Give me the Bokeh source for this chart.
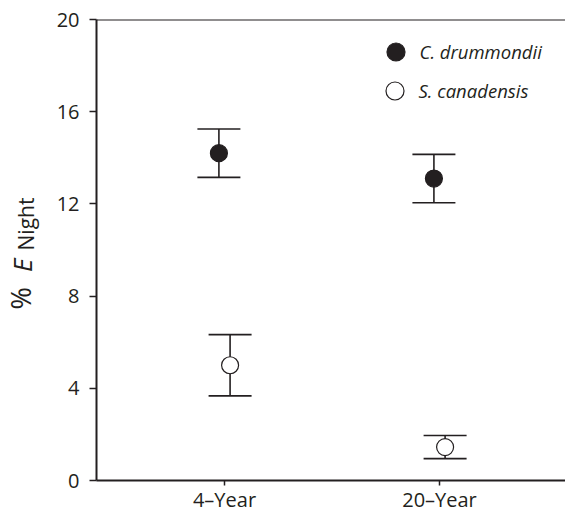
from bokeh.plotting import figure
from bokeh.layouts import row
from bokeh.models import (ColumnDataSource, Range1d, FixedTicker, Whisker, TeeHead,
                          Span, Legend, LegendItem)
from bokeh.core.properties import value
from bokeh.embed import file_html
from bokeh.resources import INLINE
from math import pi

# ---- data ----
periods = ["4\u2013Year", "20\u2013Year"]
period_pos = [1, 2]
species = ["C. drummondii", "S. canadensis"]
cd_mean = [14.2, 13.1]
cd_err = [1.05, 1.05]
sc_mean = [5.0, 1.45]
sc_err = [1.33, 0.5]
y_ticks = [0, 4, 8, 12, 16, 20]

INK = "#231f20"
FONT = "Open Sans"
DODGE = 0.026
H = 515
LBL_W = 50

def make_src(means, errs, shift):
    xs = [p + shift for p in period_pos]
    return ColumnDataSource(dict(
        x=xs, y=means,
        upper=[m + e for m, e in zip(means, errs)],
        lower=[m - e for m, e in zip(means, errs)],
    ))

cd_src = make_src(cd_mean, cd_err, -DODGE)
sc_src = make_src(sc_mean, sc_err, DODGE)

p = figure(width=565 - LBL_W, height=H, output_backend="svg", toolbar_location=None,
           x_range=Range1d(0.4047, 2.586), y_range=Range1d(0, 20),
           min_border_left=96 - LBL_W, min_border_right=0, min_border_top=19,
           min_border_bottom=34)
p.outline_line_color = None
p.grid.visible = False
p.background_fill_color = "white"
p.border_fill_color = "white"

# axes
p.xaxis.ticker = FixedTicker(ticks=period_pos)
p.xaxis.major_label_overrides = {pos: lab for pos, lab in zip(period_pos, periods)}
p.yaxis.ticker = FixedTicker(ticks=y_ticks)
for ax in (p.xaxis, p.yaxis):
    ax.axis_line_color = INK
    ax.axis_line_width = 2
    ax.major_tick_line_color = INK
    ax.major_tick_line_width = 1.5
    ax.major_tick_in = 0
    ax.minor_tick_line_color = None
    ax.major_label_text_font = FONT
    ax.major_label_text_font_size = "20px"
    ax.major_label_text_color = INK
p.yaxis.major_tick_out = 7
p.yaxis.major_label_standoff = 10
p.xaxis.major_tick_out = 5
p.xaxis.major_label_standoff = 0

# top frame line
p.add_layout(Span(location=20, dimension="width", line_color=INK, line_width=2))

# error bars
for src in (cd_src, sc_src):
    w = Whisker(source=src, base="x", upper="upper", lower="lower",
                line_color=INK, line_width=1.6,
                upper_head=TeeHead(size=43, line_color=INK, line_width=1.6),
                lower_head=TeeHead(size=43, line_color=INK, line_width=1.6))
    p.add_layout(w)

r_cd = p.scatter("x", "y", source=cd_src, size=17, fill_color=INK,
                 line_color=INK, line_width=1.2)
r_sc = p.scatter("x", "y", source=sc_src, size=17, fill_color="white",
                 line_color=INK, line_width=1.2)

def add_legend(label, renderer, loc):
    lg = Legend(items=[LegendItem(label=label, renderers=[renderer])],
                location=loc, padding=0, margin=0, spacing=0,
                glyph_width=45, glyph_height=45, label_height=45,
                label_standoff=2, border_line_color=None,
                background_fill_alpha=0,
                label_text_font=FONT, label_text_font_style="italic",
                label_text_font_size="18.5px", label_text_color=INK)
    p.add_layout(lg)

add_legend(species[0], r_cd, (276.5, 406.5))
add_legend(species[1], r_sc, (275.5, 367.5))

# left strip holding the y axis label "% E_Night"
lab = figure(width=LBL_W, height=H, output_backend="svg", toolbar_location=None,
             x_range=Range1d(0, LBL_W), y_range=Range1d(0, H),
             min_border=0, outline_line_color=None)
lab.axis.visible = False
lab.grid.visible = False
lab.text(x=[20], y=[H - 324], text=["%"], angle=pi / 2,
         text_align="left", text_baseline="alphabetic",
         text_font=value(FONT), text_font_size="27px", text_color=INK)
lab.text(x=[21], y=[H - 282], text=["E"], angle=pi / 2,
         text_align="left", text_baseline="alphabetic",
         text_font=value(FONT), text_font_size="26px",
         text_font_style="italic", text_color=INK)
lab.text(x=[25], y=[H - 258], text=["Night"], angle=pi / 2,
         text_align="left", text_baseline="alphabetic",
         text_font=value(FONT), text_font_size="21px", text_color=INK)

layout = row(lab, p, spacing=0)
open("out.html", "w").write(file_html(layout, INLINE))
